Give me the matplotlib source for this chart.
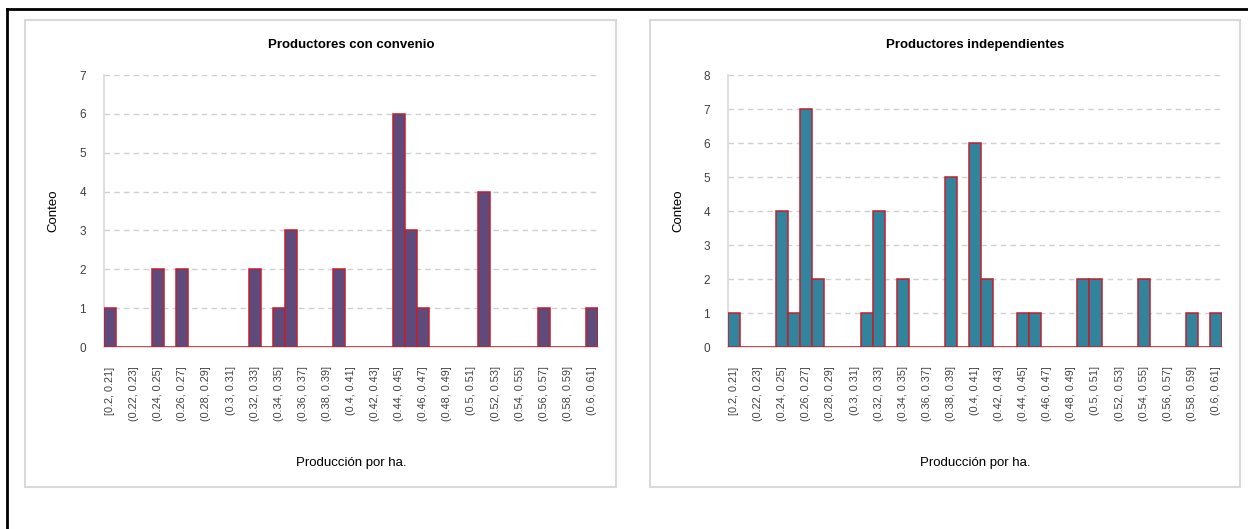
import matplotlib.pyplot as plt
import matplotlib.patches as patches
import matplotlib.lines as lines
import numpy as np

plt.rcParams['font.family'] = ['Liberation Sans', 'DejaVu Sans']

# 41 bins of width 0.01 between 0.2 and 0.61
bin_labels = ['[0.2, 0.21]', '(0.22, 0.23]', '(0.24, 0.25]', '(0.26, 0.27]',
              '(0.28, 0.29]', '(0.3, 0.31]', '(0.32, 0.33]', '(0.34, 0.35]',
              '(0.36, 0.37]', '(0.38, 0.39]', '(0.4, 0.41]', '(0.42, 0.43]',
              '(0.44, 0.45]', '(0.46, 0.47]', '(0.48, 0.49]', '(0.5, 0.51]',
              '(0.52, 0.53]', '(0.54, 0.55]', '(0.56, 0.57]', '(0.58, 0.59]',
              '(0.6, 0.61]']

conteo_convenio = [1, 0, 0, 0, 2, 0, 2, 0, 0, 0,
                   0, 0, 2, 0, 1, 3, 0, 0, 0, 2,
                   0, 0, 0, 0, 6, 3, 1, 0, 0, 0,
                   0, 4, 0, 0, 0, 0, 1, 0, 0, 0,
                   1]
conteo_independientes = [1, 0, 0, 0, 4, 1, 7, 2, 0, 0,
                         0, 1, 4, 0, 2, 0, 0, 0, 5, 0,
                         6, 2, 0, 0, 1, 1, 0, 0, 0, 2,
                         2, 0, 0, 0, 2, 0, 0, 0, 1, 0,
                         1]

W, H = 1248, 529
fig = plt.figure(figsize=(W / 100, H / 100), dpi=100)


def px(x0, y0, x1, y1):
    return [x0 / W, 1 - y1 / H, (x1 - x0) / W, (y1 - y0) / H]


# outer frame (top and left edges only)
fig.add_artist(lines.Line2D([7 / W, 1], [1 - 9 / H, 1 - 9 / H], color='black', lw=2))
fig.add_artist(lines.Line2D([7 / W, 7 / W], [0, 1 - 9 / H], color='black', lw=2))

panels = [
    dict(box=(25, 20, 616, 487), area=(104, 75, 598, 347), title='Productores con convenio',
         data=conteo_convenio, ymax=7, color='#5F4B7B'),
    dict(box=(650, 20, 1240, 487), area=(728, 75, 1222, 347), title='Productores independientes',
         data=conteo_independientes, ymax=8, color='#31849B'),
]

for p in panels:
    bx0, by0, bx1, by1 = p['box']
    fig.add_artist(patches.Rectangle(((bx0) / W, 1 - by1 / H), (bx1 - bx0) / W, (by1 - by0) / H,
                                     transform=fig.transFigure, fill=False,
                                     edgecolor='#D9D9D9', lw=1.5))
    ax = fig.add_axes(px(*p['area']))
    x = np.arange(len(p['data']))
    ax.bar(x, p['data'], width=1.0, color=p['color'], edgecolor='#C0202F', linewidth=1.1, zorder=3)
    ax.set_xlim(-0.5, len(p['data']) - 0.5)
    ax.set_ylim(0, p['ymax'])
    ax.set_yticks(range(p['ymax'] + 1))
    ax.yaxis.grid(True, linestyle=(0, (4, 3)), color='#D0D0D0', linewidth=1.0, zorder=0)
    ax.set_xticks(x[::2])
    ax.set_xticklabels(bin_labels, rotation=90, fontsize=7.8, color='#404040')
    ax.tick_params(axis='y', labelsize=8.5, colors='#404040', length=0, pad=13)
    ax.tick_params(axis='x', length=0, pad=14)
    for side in ['top', 'right']:
        ax.spines[side].set_visible(False)
    ax.spines['left'].set_color('#D9D9D9')
    ax.spines['bottom'].set_color('#D9D9D9')
    ax.spines['left'].set_linewidth(1.2)
    ax.spines['bottom'].set_linewidth(1.2)

    fig.text((p['area'][0] + p['area'][2]) / 2 / W, 1 - 45 / H, p['title'],
             ha='center', va='center', fontsize=9.5, fontweight='bold')
    fig.text((p['area'][0] + p['area'][2]) / 2 / W, 1 - 463 / H, 'Producción por ha.',
             ha='center', va='center', fontsize=9.5)
    fig.text((bx0 + 28) / W, 1 - 211 / H, 'Conteo', rotation=90,
             ha='center', va='center', fontsize=9.5)

fig.savefig('out.png', dpi=100)
